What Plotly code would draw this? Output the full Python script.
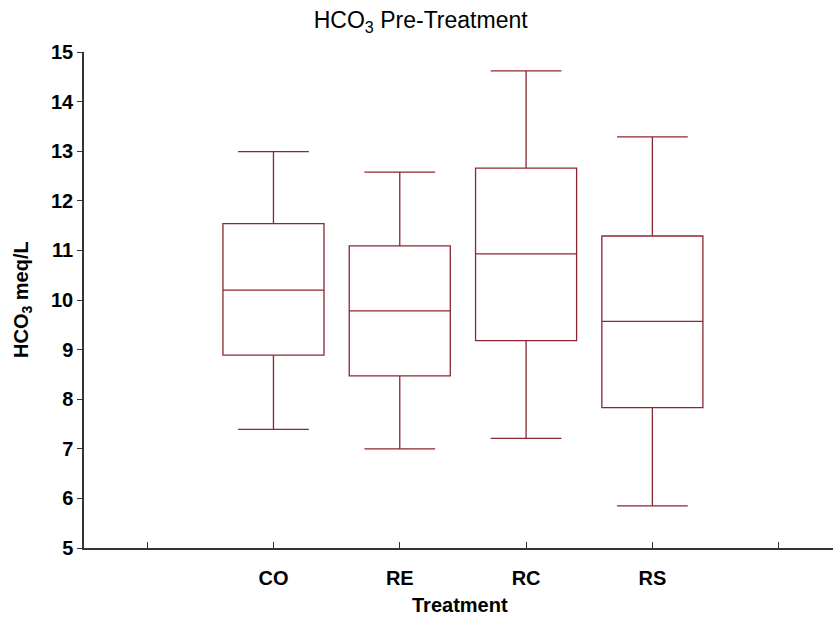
import plotly.graph_objects as go

# Box-plot summaries of HCO3 (meq/L) by treatment group
groups = ["CO", "RE", "RC", "RS"]
positions = [1, 2, 3, 4]
lower_whisker = [7.39, 7.00, 7.21, 5.85]
q1_values = [8.89, 8.47, 9.18, 7.83]
medians = [10.20, 9.78, 10.93, 9.57]
q3_values = [11.54, 11.09, 12.66, 11.29]
upper_whisker = [12.99, 12.58, 14.62, 13.29]

y_tickvals = list(range(5, 16))

line_color = "#8C2633"
axis_color = "#333333"
font_family = "Liberation Sans, Arial, sans-serif"
label_font = dict(family=font_family, size=20, color="black", weight="bold")

fig = go.Figure()
fig.add_trace(go.Box(
    x=positions,
    q1=q1_values,
    median=medians,
    q3=q3_values,
    lowerfence=lower_whisker,
    upperfence=upper_whisker,
    width=0.8,
    whiskerwidth=0.7,
    fillcolor="rgba(255,255,255,0)",
    line=dict(color=line_color, width=1.3),
    boxpoints=False,
    showlegend=False,
    hoverinfo="skip",
))

fig.update_layout(
    width=833,
    height=619,
    margin=dict(l=84, r=0, t=52, b=71),
    paper_bgcolor="white",
    plot_bgcolor="white",
    font=dict(family=font_family, color="black"),
    title=dict(
        text="HCO<sub>3</sub> Pre-Treatment",
        x=0.505, xref="container", xanchor="center",
        y=1 - 20 / 619, yref="container", yanchor="middle",
        font=dict(size=23, color="black"),
    ),
    xaxis=dict(
        range=[-0.5, 5.43],
        tickmode="array",
        tickvals=positions,
        ticktext=groups,
        ticks="inside",
        ticklen=6,
        tickwidth=1,
        tickcolor=axis_color,
        # unlabeled ticks at every integer position, including the outer ones
        minor=dict(ticks="inside", tick0=0, dtick=1, ticklen=6,
                   tickwidth=1, tickcolor=axis_color, showgrid=False),
        showline=True,
        linecolor=axis_color,
        linewidth=1.5,
        showgrid=False,
        zeroline=False,
        ticklabelstandoff=11,
        tickfont=label_font,
    ),
    yaxis=dict(
        range=[5, 15],
        tickmode="array",
        tickvals=y_tickvals,
        ticks="outside",
        ticklen=5,
        tickwidth=1,
        tickcolor=axis_color,
        showline=True,
        linecolor=axis_color,
        linewidth=1.5,
        showgrid=False,
        zeroline=False,
        tickfont=label_font,
    ),
    annotations=[
        dict(
            text="Treatment",
            xref="paper", yref="paper",
            x=(460 - 84) / (833 - 84), y=0,
            xanchor="center", yanchor="middle",
            yshift=-57,
            showarrow=False,
            font=label_font,
        ),
        dict(
            text="HCO<sub>3</sub> meq/L",
            xref="paper", yref="paper",
            x=0, y=0.5,
            xanchor="center", yanchor="middle",
            xshift=-62,
            textangle=-90,
            showarrow=False,
            font=label_font,
        ),
    ],
)

fig.write_html("out.html")
